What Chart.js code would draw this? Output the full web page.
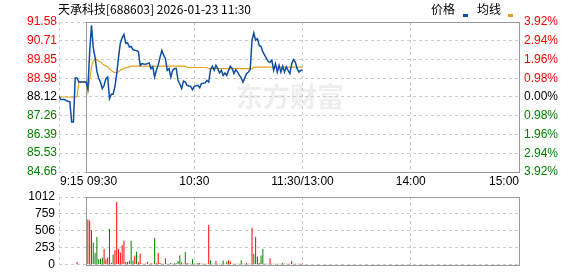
<!DOCTYPE html>
<html>
<head>
<meta charset="utf-8">
<script src="https://cdn.jsdelivr.net/npm/chart.js@4.4.1/dist/chart.umd.min.js"></script>
<style>
  html, body { margin: 0; padding: 0; background: #fff; }
  #wrap { position: relative; width: 578px; height: 276px; }
  #wrap canvas { position: absolute; left: 0; top: 0; }
</style>
</head>
<body>
<div id="wrap">
  <canvas id="priceChart" width="578" height="276"></canvas>
  <canvas id="volChart" width="578" height="276"></canvas>
</div>
<script>
// ---- data ----
const stockTitle = '天承科技[688603] 2026-01-23 11:30';
const legendNames = ['价格', '均线'];
const watermark = '东方财富';
const prevClose = 88.12;

const priceTicks = [91.58, 90.71, 89.85, 88.98, 88.12, 87.26, 86.39, 85.53, 84.66];
const pctTicks = [3.92, 2.94, 1.96, 0.98, 0, -0.98, -1.96, -2.94, -3.92];
const volTicks = [1012, 759, 506, 253, 0];
// minutes counted from 9:15 (lunch break removed)
const timeTicks = [0, 15, 75, 135, 195, 255];
const timeLabels = ['9:15', '09:30', '10:30', '11:30/13:00', '14:00', '15:00'];

// one value per minute from 9:15 to 11:30
const price = [
  88.15, 88.01, 88.01, 88.01, 87.96, 87.92, 87.90, 86.97, 86.97, 89.00,
  89.00, 88.81, 88.81, 88.81, 88.81, 88.81, 88.52, 90.20, 91.43, 90.40,
  89.95, 89.30, 89.00, 88.80, 88.51, 88.65, 88.97, 89.04, 88.05, 88.25,
  88.25, 88.60, 89.20, 89.95, 90.60, 90.85, 91.01, 90.60, 90.62, 90.42,
  90.45, 90.31, 90.28, 90.26, 90.22, 89.58, 89.66, 89.64, 89.63, 89.66,
  89.69, 89.43, 89.51, 89.04, 89.35, 89.60, 89.95, 90.27, 90.05, 89.89,
  89.35, 89.43, 89.04, 89.35, 89.43, 89.43, 88.89, 88.71, 88.51, 88.85,
  88.81, 88.66, 88.63, 88.61, 88.46, 88.61, 88.64, 88.66, 88.55, 88.74,
  88.75, 88.77, 88.89, 88.81, 89.38, 89.54, 89.35, 89.58, 89.43, 89.23,
  89.35, 89.12, 89.23, 89.12, 89.35, 89.54, 89.43, 89.20, 89.38, 89.27,
  89.12, 89.00, 88.81, 89.00, 89.20, 89.27, 89.40, 90.74, 91.07, 90.74,
  90.81, 90.50, 90.45, 90.20, 90.05, 89.90, 89.75, 89.73, 89.81, 89.35,
  89.66, 89.27, 89.58, 89.27, 89.54, 89.27, 89.51, 89.35, 89.20, 89.66,
  89.85, 89.73, 89.43, 89.27, 89.35, 89.35
];
const avgPrice = [
  88.12, 88.12, 88.12, 88.12, 88.12, 88.12, 88.12, 88.12, 88.12, 88.12,
  88.12, 88.81, 88.81, 88.81, 88.81, 88.81, 88.35, 88.90, 89.50, 89.80,
  89.85, 89.83, 89.78, 89.73, 89.66, 89.60, 89.55, 89.50, 89.42, 89.35,
  89.28, 89.24, 89.23, 89.28, 89.35, 89.40, 89.44, 89.47, 89.49, 89.51,
  89.54, 89.54, 89.54, 89.54, 89.54, 89.54, 89.54, 89.54, 89.54, 89.54,
  89.54, 89.54, 89.54, 89.54, 89.54, 89.54, 89.54, 89.54, 89.54, 89.54,
  89.54, 89.54, 89.54, 89.54, 89.54, 89.54, 89.54, 89.54, 89.54, 89.54,
  89.54, 89.48, 89.48, 89.48, 89.48, 89.48, 89.48, 89.48, 89.48, 89.48,
  89.48, 89.48, 89.48, 89.43, 89.43, 89.43, 89.43, 89.43, 89.43, 89.43,
  89.43, 89.43, 89.43, 89.43, 89.43, 89.43, 89.43, 89.43, 89.43, 89.43,
  89.43, 89.43, 89.43, 89.43, 89.43, 89.43, 89.43, 89.43, 89.50, 89.50,
  89.50, 89.50, 89.50, 89.50, 89.50, 89.50, 89.50, 89.50, 89.50, 89.50,
  89.50, 89.50, 89.50, 89.50, 89.50, 89.50, 89.50, 89.50, 89.50, 89.50,
  89.50, 89.50, 89.50, 89.50, 89.50, 89.50
];
const volume = [
  null, null, null, null, null, null, null, null, null, null,
  41, null, null, null, null, null, 676, 662, 515, 331,
  175, 414, 83, 92, 110, 235, 83, 110, 538, 30,
  152, 221, 938, 235, 184, 290, 359, 41, 41, 60,
  359, 64, 138, 193, 41, 166, 14, 14, 14, 41,
  14, 23, 14, 400, 23, 179, 28, 14, 14, 97,
  14, 14, 28, 14, 23, 23, 55, 138, 37, 14,
  193, 28, 14, 14, 83, 14, 14, 28, 28, 14,
  14, 14, 14, 593, 69, 14, 14, 55, 14, 14,
  14, 64, 14, 51, 69, 51, 14, 14, 14, 14,
  14, 69, 14, 14, 28, 14, 14, 552, 166, 414,
  124, 28, 138, 235, 14, 14, 14, 97, 14, 14,
  14, 14, 14, 14, 28, 14, 14, 14, 14, 55,
  14, 14, 14, 14, 14, 14
];
// 1 = up minute (red), 0 = down minute (green)
const volUp = [
  0, 0, 0, 0, 0, 0, 0, 0, 0, 0,
  1, 0, 0, 0, 0, 0, 1, 1, 1, 0,
  0, 0, 0, 0, 0, 1, 1, 1, 0, 0,
  0, 1, 1, 1, 1, 1, 1, 0, 1, 0,
  0, 0, 1, 0, 1, 1, 0, 1, 0, 1,
  0, 1, 1, 0, 1, 1, 1, 0, 1, 0,
  0, 1, 0, 1, 0, 0, 0, 0, 1, 0,
  0, 1, 1, 0, 0, 0, 1, 0, 0, 1,
  1, 1, 1, 1, 0, 0, 0, 1, 0, 0,
  0, 0, 0, 0, 1, 1, 0, 0, 1, 0,
  0, 0, 0, 1, 1, 0, 1, 1, 0, 1,
  0, 1, 0, 0, 0, 0, 1, 1, 0, 0,
  0, 1, 0, 0, 1, 0, 0, 1, 1, 1,
  0, 0, 1, 1, 1, 1
];

// ---- style ----
const RED = '#ff0000';
const GREEN = '#008000';
const DARK = '#000000';
const BLUE = '#0d4ea2';
const GOLD = '#e0a21e';
const GRID = '#cccccc';
const FRAME = '#999999';
const NUM_FONT = { family: '"Liberation Sans", Arial, sans-serif', size: 12 };
const CJK = '"Noto Sans CJK SC", "Liberation Sans", sans-serif';

const LEFT_W = 59, RIGHT_W = 59;

// solid box from 09:30 to 15:00
const framePlugin = {
  id: 'frame',
  beforeDatasetsDraw(chart) {
    const { ctx, chartArea: a, scales } = chart;
    const x0 = Math.floor(scales.x.getPixelForValue(timeTicks[1])) + 0.5;
    const x1 = Math.floor(a.right) + 0.5;
    ctx.save();
    ctx.strokeStyle = FRAME;
    ctx.lineWidth = 1;
    ctx.strokeRect(x0, Math.floor(a.top) + 0.5, x1 - x0, Math.round(a.bottom - a.top));
    ctx.restore();
  }
};

const watermarkPlugin = {
  id: 'watermark',
  beforeDatasetsDraw(chart) {
    const ctx = chart.ctx;
    ctx.save();
    ctx.fillStyle = 'rgba(200,200,200,0.3)';
    ctx.font = 'bold 27px ' + CJK;
    ctx.textBaseline = 'middle';
    ctx.fillText(watermark, 236, 97);
    ctx.restore();
  }
};

const xAlign = ['left', 'left', 'center', 'center', 'center', 'right'];
const textPlugin = {
  id: 'texts',
  afterDraw(chart) {
    const { ctx, scales } = chart;
    ctx.save();
    ctx.textBaseline = 'middle';
    ctx.fillStyle = DARK;
    ctx.font = '12px ' + CJK;
    ctx.textAlign = 'left';
    ctx.fillText(stockTitle, 58, 9);

    ctx.fillText(legendNames[0], 431, 9);
    ctx.fillText(legendNames[1], 477, 9);
    ctx.fillStyle = BLUE;
    ctx.fillRect(463, 14, 5, 3);
    ctx.fillStyle = GOLD;
    ctx.fillRect(508, 14, 5, 3);

    ctx.fillStyle = DARK;
    ctx.font = '12px ' + NUM_FONT.family;
    timeTicks.forEach((t, i) => {
      let x = scales.x.getPixelForValue(t);
      if (xAlign[i] === 'left') x += 1;
      ctx.textAlign = xAlign[i];
      ctx.fillText(timeLabels[i], x, 182);
    });
    ctx.restore();
  }
};

function xAxis() {
  return {
    type: 'linear',
    offset: false,
    min: timeTicks[0],
    max: timeTicks[timeTicks.length - 1],
    afterBuildTicks: s => { s.ticks = timeTicks.map(v => ({ value: v })); },
    ticks: { display: false },
    grid: { color: GRID, drawTicks: false, offset: false },
    border: { display: false, dash: [3, 3] }
  };
}

function sideColor(v, mid) {
  if (Math.abs(v - mid) < 0.005) return DARK;
  return v > mid ? RED : GREEN;
}

// ---- price chart ----
new Chart(document.getElementById('priceChart'), {
  type: 'line',
  data: {
    datasets: [
      {
        label: legendNames[0],
        data: price.map((p, i) => ({ x: i, y: p })),
        borderColor: BLUE,
        borderWidth: 1.5,
        pointRadius: 0,
        tension: 0
      },
      {
        label: legendNames[1],
        data: avgPrice.map((p, i) => ({ x: i, y: p })),
        borderColor: GOLD,
        borderWidth: 1.2,
        pointRadius: 0,
        tension: 0
      }
    ]
  },
  options: {
    responsive: false,
    animation: false,
    layout: { padding: { top: 22, bottom: 104, left: 0, right: 0 } },
    plugins: { legend: { display: false }, tooltip: { enabled: false } },
    scales: {
      x: xAxis(),
      y: {
        position: 'left',
        min: priceTicks[priceTicks.length - 1],
        max: priceTicks[0],
        afterBuildTicks: s => { s.ticks = priceTicks.map(v => ({ value: v })); },
        afterFit: s => { s.width = LEFT_W; },
        ticks: {
          font: NUM_FONT,
          padding: 2,
          color: c => sideColor(c.tick.value, prevClose),
          callback: v => v.toFixed(2)
        },
        grid: { color: GRID, drawTicks: false },
        border: { display: false, dash: [3, 3] }
      },
      y2: {
        position: 'right',
        min: pctTicks[pctTicks.length - 1],
        max: pctTicks[0],
        afterBuildTicks: s => { s.ticks = pctTicks.map(v => ({ value: v })); },
        afterFit: s => { s.width = RIGHT_W; },
        ticks: {
          font: NUM_FONT,
          padding: 5,
          color: c => sideColor(c.tick.value, 0),
          callback: v => Math.abs(v).toFixed(2) + '%'
        },
        grid: { display: false, drawTicks: false },
        border: { display: false }
      }
    }
  },
  plugins: [watermarkPlugin, framePlugin, textPlugin]
});

// ---- volume chart ----
new Chart(document.getElementById('volChart'), {
  type: 'bar',
  data: {
    datasets: [{
      data: volume.map((v, i) => ({ x: i, y: v })),
      backgroundColor: volUp.map(u => (u ? RED : GREEN)),
      barThickness: 1,
      inflateAmount: 0,
      borderWidth: 0
    }]
  },
  options: {
    responsive: false,
    animation: false,
    layout: { padding: { top: 197, bottom: 6, left: 0, right: RIGHT_W } },
    plugins: { legend: { display: false }, tooltip: { enabled: false } },
    scales: {
      x: xAxis(),
      y: {
        position: 'left',
        min: 0,
        max: volTicks[0],
        afterBuildTicks: s => { s.ticks = volTicks.map(v => ({ value: v })); },
        afterFit: s => { s.width = LEFT_W; },
        ticks: { font: NUM_FONT, padding: 4, color: DARK, callback: v => String(v) },
        grid: { color: GRID, drawTicks: false },
        border: { display: false, dash: [3, 3] }
      }
    }
  },
  plugins: [framePlugin]
});
</script>
</body>
</html>
